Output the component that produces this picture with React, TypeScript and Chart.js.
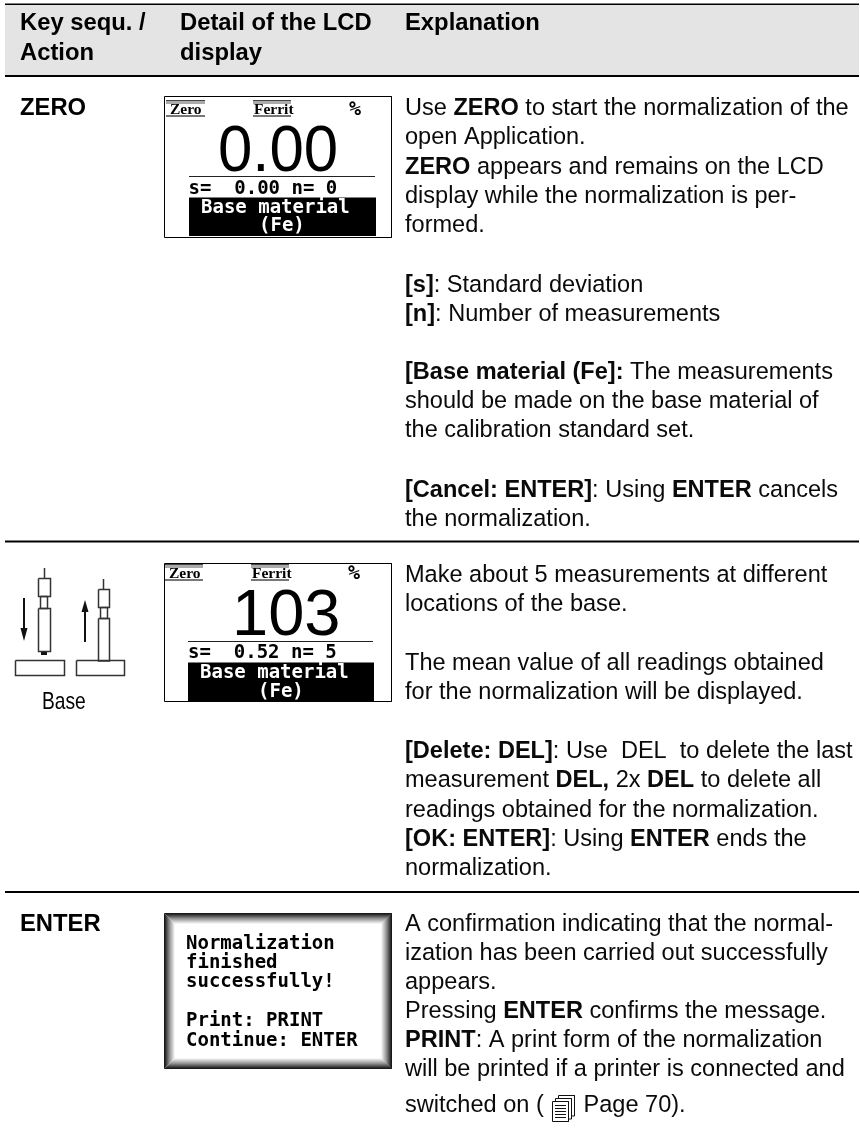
import React, { useEffect, useRef } from "react";
import Chart from "chart.js/auto";

type P = [number, number];

// ---- text content ----
const headerKey = ["Key sequ. /", "Action"];
const headerLcd = ["Detail of the LCD", "display"];
const headerExplain = ["Explanation"];
const keyLabels = ["ZERO", "ENTER"];
const probeCaption = "Base";
const lcdTags = ["Zero", "Ferrit"];
const lcdUnit = "%";
const lcdReadings = ["0.00", "103"];
const lcdStats = ["s=  0.00 n= 0", "s=  0.52 n= 5"];
const lcdMessage = ["Base material", "(Fe)"];
const finishedMessage = ["Normalization", "finished", "successfully!", "", "Print: PRINT", "Continue: ENTER"];

// "*" toggles bold
const explainZero = [
  "Use *ZERO* to start the normalization of the",
  "open Application.",
  "*ZERO* appears and remains on the LCD",
  "display while the normalization is per-",
  "formed.",
  "*[s]*: Standard deviation",
  "*[n]*: Number of measurements",
  "*[Base material (Fe]:* The measurements",
  "should be made on the base material of",
  "the calibration standard set.",
  "*[Cancel: ENTER]*: Using *ENTER* cancels",
  "the normalization.",
];
const explainBase = [
  "Make about 5 measurements at different",
  "locations of the base.",
  "The mean value of all readings obtained",
  "for the normalization will be displayed.",
  "*[Delete: DEL]*: Use  DEL  to delete the last",
  "measurement *DEL,* 2x *DEL* to delete all",
  "readings obtained for the normalization.",
  "*[OK: ENTER]*: Using *ENTER* ends the",
  "normalization.",
];
const explainEnter = [
  "A confirmation indicating that the normal-",
  "ization has been carried out successfully",
  "appears.",
  "Pressing *ENTER* confirms the message.",
  "*PRINT*: A print form of the normalization",
  "will be printed if a printer is connected and",
  "switched on (",
];
const pageRef = "Page 70).";

// ---- layout ----
const explainZeroY = [115, 144.3, 173.5, 202.7, 232, 291.5, 320.7, 379, 408.3, 437.3, 496.7, 525.7];
const explainBaseY = [581.7, 611, 669.5, 699, 757.5, 787, 816.5, 845.7, 875];
const explainEnterY = [931, 960, 989, 1018.3, 1047, 1075.5, 1111.5];
const finishedY = [949, 968.3, 987.3, 0, 1025.7, 1045.5];

const hRules: [number, number, number][] = [[5, 859, 4.5], [5, 859, 76], [5, 859, 541.5], [5, 859, 892]];
const headerBand: P[] = [[5, 5], [859, 5], [859, 75], [5, 75], [5, 5]];

const rectPts = (x0: number, y0: number, x1: number, y1: number): P[] => [[x0, y0], [x1, y0], [x1, y1], [x0, y1], [x0, y0]];

const lcdBoxes = [rectPts(164.5, 96.5, 391.5, 237.5), rectPts(164.5, 563.5, 391.5, 701.5)];
const lcdBars = [rectPts(189, 197.5, 376, 236), rectPts(188, 662.5, 374, 701)];
const lcdLines: P[][] = [[[189, 176.5], [375, 176.5]], [[188, 641.5], [373, 641.5]]];

const tagStrips: [number, number, number][] = [[166, 205, 100], [253, 291, 100], [165, 203, 564], [251, 289, 564]];

const probeOutlines: P[][] = [
  [[44.5, 568], [44.5, 578]],
  rectPts(38.5, 578.5, 50.5, 596.5),
  rectPts(40.5, 596.5, 47.5, 608.5),
  rectPts(38.5, 608.5, 50.5, 651.5),
  rectPts(15.5, 660.5, 64.5, 675.5),
  [[103.5, 579], [103.5, 589]],
  rectPts(98.5, 589.5, 109.5, 607.5),
  rectPts(100.5, 607.5, 107.5, 618.5),
  rectPts(98.5, 618.5, 109.5, 661),
  rectPts(76.5, 660.5, 124.5, 675.5),
];
const probeSolids: P[][] = [
  rectPts(41, 651, 47, 655),
  [[20.5, 628], [27.5, 628], [24, 641], [20.5, 628]],
  [[81.5, 612], [88.5, 612], [85, 600], [81.5, 612]],
];
const arrowShafts: P[][] = [[[24, 598], [24, 630]], [[85, 610], [85, 642]]];

const bevelBox = [164, 913, 392, 1069];
const bevelShades = [25, 45, 70, 95, 120, 145, 165, 185, 205, 225, 245];

const iconOutlines: P[][] = [
  [[558.5, 1098], [558.5, 1095.5], [574.5, 1095.5], [574.5, 1116], [571, 1116]],
  [[555.5, 1101], [555.5, 1098.5], [571.5, 1098.5], [571.5, 1119], [569, 1119]],
  rectPts(552.5, 1101.5, 568.5, 1121.5),
  [[555, 1105.5], [566, 1105.5]],
  [[555, 1108.5], [566, 1108.5]],
  [[555, 1111.5], [566, 1111.5]],
  [[555, 1114.5], [566, 1114.5]],
  [[555, 1117.5], [566, 1117.5]],
];

const SANS = '"Liberation Sans", Arial, sans-serif';
const MONO = '"DejaVu Sans Mono", monospace';
const BODY = 23.55;
const HEAD = 23.8;

const ln = (pts: P[], color: string, width: number, extra: any = {}) => ({
  type: "scatter",
  data: pts.map(([x, y]) => ({ x, y })),
  showLine: true,
  borderColor: color,
  borderWidth: width,
  pointRadius: 0,
  tension: 0,
  fill: false,
  ...extra,
});
const solid = (pts: P[], color: string) => ln(pts, color, 0, { fill: "shape", backgroundColor: color });

export default function App() {
  const ref = useRef<HTMLCanvasElement>(null);
  useEffect(() => {
    const datasets: any[] = [];
    datasets.push(solid(headerBand, "#e4e4e4"));
    hRules.forEach(([a, b, y]) => datasets.push(ln([[a, y], [b, y]], "#000", 2)));
    lcdBars.forEach((p) => datasets.push(solid(p, "#000")));
    lcdBoxes.forEach((p) => datasets.push(ln(p, "#000", 1)));
    lcdLines.forEach((p) => datasets.push(ln(p, "#222", 1)));
    tagStrips.forEach(([a, b, y]) => {
      datasets.push(ln([[a, y + 0.5], [b, y + 0.5]], "#444", 1));
      datasets.push(ln([[a, y + 2.5], [b, y + 2.5]], "#aaa", 3));
      datasets.push(ln([[a, y + 16], [b, y + 16]], "#777", 2));
    });
    probeOutlines.forEach((p) => datasets.push(ln(p, "#333", 1.5)));
    probeSolids.forEach((p) => datasets.push(solid(p, "#111")));
    arrowShafts.forEach((p) => datasets.push(ln(p, "#111", 2)));
    bevelShades.forEach((g, i) => {
      const [x0, y0, x1, y1] = bevelBox;
      datasets.push(ln(rectPts(x0 + i + 0.5, y0 + i + 0.5, x1 - i - 0.5, y1 - i - 0.5), `rgb(${g},${g},${g})`, 1));
    });
    iconOutlines.forEach((p) => datasets.push(ln(p, "#111", 1)));

    const textPlugin = {
      id: "pageText",
      afterDatasetsDraw(chart: any) {
        const c: any = chart.ctx;
        const X = (v: number) => chart.scales.x.getPixelForValue(v);
        const Y = (v: number) => chart.scales.y.getPixelForValue(v);
        c.save();
        c.textBaseline = "alphabetic";
        c.textAlign = "left";
        const put = (t: string, x: number, y: number, font: string, color = "#000") => {
          c.font = font;
          c.fillStyle = color;
          c.fillText(t, X(x), Y(y));
          return c.measureText(t).width;
        };
        const squeezed = (t: string, x: number, y: number, font: string, sx: number) => {
          c.save();
          c.translate(X(x), Y(y));
          c.scale(sx, 1);
          c.font = font;
          c.fillStyle = "#000";
          c.fillText(t, 0, 0);
          c.restore();
        };
        const rich = (line: string, x: number, y: number) => {
          let cx = x;
          line.split("*").forEach((seg, i) => {
            if (seg) cx += put(seg, cx, y, `${i % 2 ? "bold " : ""}${BODY}px ${SANS}`, "#0a0a0a");
          });
          return cx;
        };
        const bold = `bold ${HEAD}px ${SANS}`;
        headerKey.forEach((t, i) => put(t, 20, [29.5, 60][i], bold));
        headerLcd.forEach((t, i) => put(t, 180, [29.5, 60][i], bold));
        headerExplain.forEach((t) => put(t, 405, 29.5, bold));
        put(keyLabels[0], 20, 115, bold);
        put(keyLabels[1], 20, 931, bold);

        explainZero.forEach((t, i) => rich(t, 405, explainZeroY[i]));
        explainBase.forEach((t, i) => rich(t, 405, explainBaseY[i]));
        explainEnter.forEach((t, i) => rich(t, 405, explainEnterY[i]));
        rich(pageRef, 583.5, explainEnterY[6]);

        squeezed(probeCaption, 42, 709, `24px ${SANS}`, 0.8);

        const mono = `bold 19px ${MONO}`;
        const serif = `bold 15.5px "Liberation Serif", serif`;
        const big = `65px ${SANS}`;
        // first LCD
        put(lcdTags[0], 170, 114, serif);
        put(lcdTags[1], 254, 114, serif);
        put(lcdUnit, 349, 114.5, `bold 20px ${MONO}`);
        squeezed(lcdReadings[0], 218, 171, big, 0.95);
        put(lcdStats[0], 188.5, 193.5, mono);
        put(lcdMessage[0], 201, 212.5, mono, "#fff");
        put(lcdMessage[1], 259, 231, mono, "#fff");
        // second LCD
        put(lcdTags[0], 169, 578, serif);
        put(lcdTags[1], 252, 578, serif);
        put(lcdUnit, 348, 578.5, `bold 20px ${MONO}`);
        put(lcdReadings[1], 232, 635, big);
        put(lcdStats[1], 188, 657.5, mono);
        put(lcdMessage[0], 200, 677.5, mono, "#fff");
        put(lcdMessage[1], 258, 696.5, mono, "#fff");
        // finished message
        finishedMessage.forEach((t, i) => t && put(t, 186, finishedY[i], mono));
        c.restore();
      },
    };

    const chart = new Chart(ref.current as HTMLCanvasElement, {
      type: "scatter",
      data: { datasets },
      plugins: [textPlugin],
      options: {
        animation: false,
        responsive: false,
        layout: { padding: 0 },
        plugins: { legend: { display: false }, tooltip: { enabled: false }, title: { display: false } },
        scales: {
          x: { type: "linear", min: 0, max: 860, display: false },
          y: { type: "linear", min: 0, max: 1129, reverse: true, display: false },
        },
      },
    } as any);
    return () => chart.destroy();
  }, []);
  return (
    <canvas
      ref={ref}
      width={860}
      height={1129}
      style={{ position: "fixed", left: 0, top: 0, width: 860, height: 1129, display: "block", background: "#fff" }}
    />
  );
}
